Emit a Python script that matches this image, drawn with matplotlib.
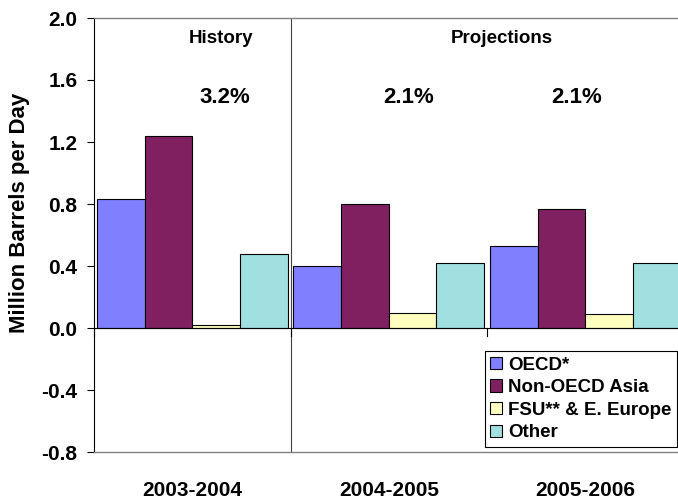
import matplotlib
matplotlib.use("Agg")
import matplotlib.pyplot as plt
import numpy as np

plt.rcParams['font.family'] = ['Liberation Sans', 'DejaVu Sans']
plt.rcParams['font.weight'] = 'bold'

periods = ["2003-2004", "2004-2005", "2005-2006"]
series_names = ["OECD*", "Non-OECD Asia", "FSU** & E. Europe", "Other"]
oecd = [0.83, 0.40, 0.53]
non_oecd_asia = [1.24, 0.80, 0.77]
fsu_europe = [0.02, 0.10, 0.09]
other = [0.48, 0.42, 0.42]
growth_labels = ["3.2%", "2.1%", "2.1%"]
section_labels = ["History", "Projections"]

colors = ["#8080FF", "#802060", "#FFFFC0", "#A0E0E0"]
values = [oecd, non_oecd_asia, fsu_europe, other]

fig = plt.figure(figsize=(6.78, 5.0), dpi=100)
ax = fig.add_axes([94 / 678, 48 / 500, (683.5 - 94) / 678, (452 - 18) / 500])

x = np.arange(len(periods))
bw = 0.243
offsets = (np.arange(4) - 1.5) * bw
for vals, col, name, off in zip(values, colors, series_names, offsets):
    ax.bar(x + off, vals, width=bw, color=col, edgecolor="black",
           linewidth=0.8, label=name, zorder=2)

ax.set_xlim(-0.5, 2.5)
ax.set_ylim(-0.8, 2.0)
ticks = np.arange(-0.8, 2.01, 0.4)
ax.set_yticks(ticks)
ax.set_yticklabels([f"{v:.1f}" for v in ticks])
ax.tick_params(axis='y', length=5, width=0.8, pad=7, labelsize=15)

ax.set_xticks(x)
ax.set_xticklabels(periods)
ax.tick_params(axis='x', length=0, pad=21, labelsize=15)

for s in ["top", "bottom"]:
    ax.spines[s].set_color("#808080")
    ax.spines[s].set_linewidth(1.0)
ax.spines["left"].set_color("black")
ax.spines["left"].set_linewidth(0.8)
ax.spines["right"].set_visible(False)

# zero baseline with category boundary ticks
ax.axhline(0, color="black", linewidth=0.8, zorder=3)
for b in [-0.5, 0.5, 1.5]:
    ax.plot([b, b], [0, -0.05], color="black", linewidth=0.8, zorder=3,
            clip_on=False)

# divider between history and projections
ax.axvline(0.5, color="#404040", linewidth=0.8, zorder=1)

ax.text(0.146, 1.87, section_labels[0], ha="center", va="center", fontsize=13.5)
ax.text(1.576, 1.87, section_labels[1], ha="center", va="center", fontsize=13.5)
for xp, lab in zip([0.167, 1.103, 1.958], growth_labels):
    ax.text(xp, 1.49, lab, ha="center", va="center", fontsize=16)

fig.text(20 / 678, 1 - 213 / 500, "Million Barrels per Day", rotation=90,
         ha="center", va="center", fontsize=16)

leg = ax.legend(loc="lower right", bbox_to_anchor=(677 / 678, 53 / 500),
                bbox_transform=fig.transFigure, fontsize=13.5, frameon=True,
                fancybox=False, edgecolor="black", framealpha=1,
                handlelength=0.65, handleheight=0.65, handletextpad=0.3,
                labelspacing=0.3, borderpad=0.3, borderaxespad=0)
leg.get_frame().set_linewidth(0.8)

fig.savefig("out.png", dpi=100)
